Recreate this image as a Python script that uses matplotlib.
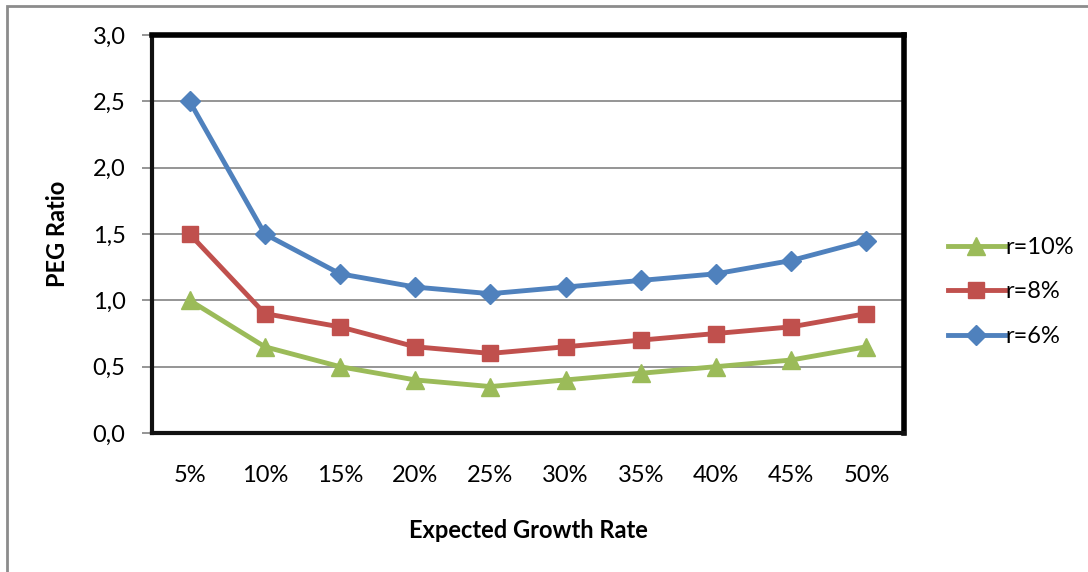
import numpy as np
import matplotlib.pyplot as plt
from matplotlib.ticker import FuncFormatter
from matplotlib.patches import Rectangle

plt.rcParams['font.family'] = ['Lato', 'DejaVu Sans']

# growth-rate categories and PEG ratios for three discount rates
growth = ['5%', '10%', '15%', '20%', '25%', '30%', '35%', '40%', '45%', '50%']
peg_r10 = [1.0, 0.65, 0.5, 0.4, 0.35, 0.4, 0.45, 0.5, 0.55, 0.65]
peg_r8 = [1.5, 0.9, 0.8, 0.65, 0.6, 0.65, 0.7, 0.75, 0.8, 0.9]
peg_r6 = [2.5, 1.5, 1.2, 1.1, 1.05, 1.1, 1.15, 1.2, 1.3, 1.45]

fig = plt.figure(figsize=(10.88, 5.72), dpi=100)
ax = fig.add_axes([152 / 1088, 1 - 433 / 572, 752 / 1088, 398 / 572])

# outer chart frame (only top and left edges fall inside the image)
fig.patches.append(Rectangle((7 / 1088, -0.1), 1.2, 1.1 - 5.5 / 572,
                             transform=fig.transFigure, fill=False,
                             edgecolor='#8c8c8c', lw=2))

x = np.arange(len(growth))
ax.plot(x, peg_r10, color='#9BBB59', lw=3.5, marker='^', ms=12.5, label='r=10%')
ax.plot(x, peg_r8, color='#C0504D', lw=3.5, marker='s', ms=12, label='r=8%')
ax.plot(x, peg_r6, color='#4F81BD', lw=3.5, marker='D', ms=10.5, label='r=6%')

ax.set_xlim(-0.5, len(growth) - 0.5)
ax.set_ylim(0, 3.0)
ax.set_yticks(np.arange(0, 3.01, 0.5))
ax.yaxis.set_major_formatter(FuncFormatter(lambda v, p: f'{v:.1f}'.replace('.', ',')))
ax.set_xticks(x)
ax.set_xticklabels(growth)
ax.grid(axis='y', color='#8c8c8c', lw=1.3)
ax.set_axisbelow(True)

ax.tick_params(axis='x', length=0, labelsize=17, pad=23)
ax.tick_params(axis='y', length=7, width=1.3, color='#8c8c8c', labelsize=17, pad=12)

for side in ['top', 'right']:
    ax.spines[side].set_linewidth(4)
    ax.spines[side].set_color('black')
for side in ['left', 'bottom']:
    ax.spines[side].set_linewidth(3)
    ax.spines[side].set_color('#111111')
ax.axhline(0, color='#8c8c8c', lw=1.5, zorder=1)

ax.set_xlabel('Expected Growth Rate', fontsize=17, fontweight='bold', labelpad=24)
ax.set_ylabel('PEG Ratio', fontsize=17, fontweight='bold', labelpad=17)

ax.legend(loc='center left', bbox_to_anchor=(948 / 1088, 1 - 292 / 572),
          bbox_transform=fig.transFigure, frameon=False, borderpad=0,
          borderaxespad=0, fontsize=17, handlelength=2.4, handletextpad=0.05,
          labelspacing=1.0)

fig.savefig('out.png', dpi=100)
